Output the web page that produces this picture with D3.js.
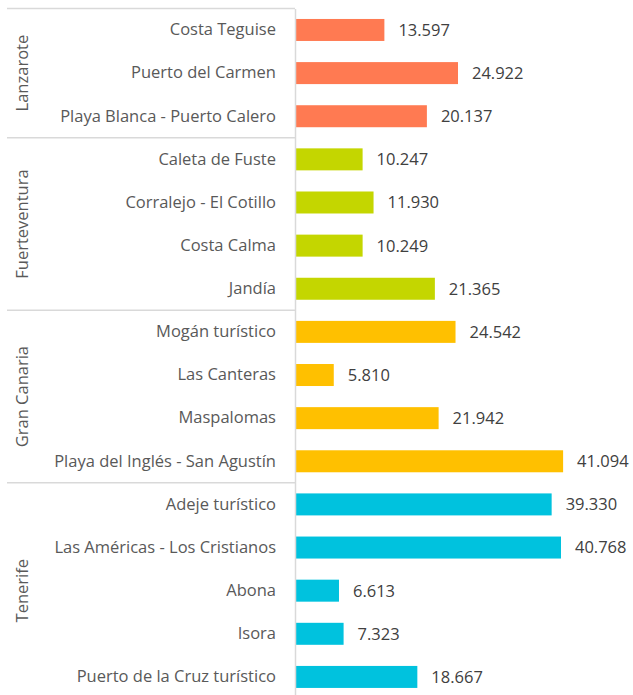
<html>
<head>
    <title>Plazas por zona turística</title>
    <style>
    body {
        margin: 0;
        padding: 0;
        background: #ffffff;
        font-family: "Open Sans";
    }
    .cat .domain {
        stroke: #d9d9d9;
        stroke-width: 1.5;
    }
    .cat .tick text {
        font-family: "Open Sans";
        font-size: 16.5px;
        fill: #595959;
    }
    .grupo {
        font-size: 16.5px;
        fill: #595959;
    }
    .valor {
        font-size: 16.5px;
        fill: #404040;
    }
    .sep {
        stroke: #d9d9d9;
        stroke-width: 1.5;
    }
    </style>
</head>
<body>
    <svg width="633" height="695"></svg>
    <script src="https://d3js.org/d3.v7.min.js"></script>
    <script>
    // datos por isla
    var islas = ["Lanzarote", "Fuerteventura", "Gran Canaria", "Tenerife"];
    var colores = ["#ff7a52", "#c4d600", "#ffc000", "#00c2de"];

    var zonas = [
        ["Costa Teguise", "Puerto del Carmen", "Playa Blanca - Puerto Calero"],
        ["Caleta de Fuste", "Corralejo - El Cotillo", "Costa Calma", "Jandía"],
        ["Mogán turístico", "Las Canteras", "Maspalomas", "Playa del Inglés - San Agustín"],
        ["Adeje turístico", "Las Américas - Los Cristianos", "Abona", "Isora", "Puerto de la Cruz turístico"]
    ];
    var valores = [
        [13597, 24922, 20137],
        [10247, 11930, 10249, 21365],
        [24542, 5810, 21942, 41094],
        [39330, 40768, 6613, 7323, 18667]
    ];

    var filas = [];
    zonas.forEach(function(lista, i) {
        lista.forEach(function(z, j) {
            filas.push({ isla: islas[i], zona: z, valor: valores[i][j], color: colores[i] });
        });
    });

    var svg = d3.select("svg");
    var ejeX = 295;
    var yTop = 8.4, yBottom = 698.5;

    var x = d3.scaleLinear().domain([0, 45000]).range([ejeX + 1, ejeX + 1 + 45 * 6.5]);
    var y = d3.scaleBand()
        .domain(filas.map(function(d) { return d.zona }))
        .range([yTop, yBottom])
        .paddingInner(0.49)
        .paddingOuter(0.245);

    var es = d3.formatLocale({ decimal: ",", thousands: ".", grouping: [3], currency: ["", "€"] });
    var fmt = es.format(",d");

    // barras
    svg.selectAll(".barra")
        .data(filas)
        .enter()
        .append("rect")
        .attr("class", "barra")
        .attr("x", x(0))
        .attr("y", function(d) { return y(d.zona) })
        .attr("width", function(d) { return x(d.valor) - x(0) })
        .attr("height", y.bandwidth())
        .style("fill", function(d) { return d.color });

    // etiquetas de valor
    svg.selectAll(".valor")
        .data(filas)
        .enter()
        .append("text")
        .attr("class", "valor")
        .attr("x", function(d) { return x(d.valor) + 14 })
        .attr("y", function(d) { return y(d.zona) + y.bandwidth() / 2 })
        .attr("dy", "0.36em")
        .text(function(d) { return fmt(d.valor) });

    // eje de categorias
    svg.append("g")
        .attr("class", "cat")
        .attr("transform", "translate(" + ejeX + ",0)")
        .call(d3.axisLeft(y).tickSize(0).tickSizeOuter(0).tickPadding(19));

    // separadores entre islas y nombres de isla
    var paso = y.step();
    var inicio = yTop;
    islas.forEach(function(isla, i) {
        var n = zonas[i].length;
        var fin = inicio + n * paso;
        svg.append("line")
            .attr("class", "sep")
            .attr("x1", 7).attr("x2", ejeX)
            .attr("y1", inicio).attr("y2", inicio);
        svg.append("text")
            .attr("class", "grupo")
            .attr("text-anchor", "middle")
            .attr("transform", "translate(28," + ((inicio + fin) / 2) + ") rotate(-90)")
            .text(isla);
        inicio = fin;
    });
    svg.append("line")
        .attr("class", "sep")
        .attr("x1", 7).attr("x2", ejeX)
        .attr("y1", inicio).attr("y2", inicio);
    </script>
</body>
</html>
